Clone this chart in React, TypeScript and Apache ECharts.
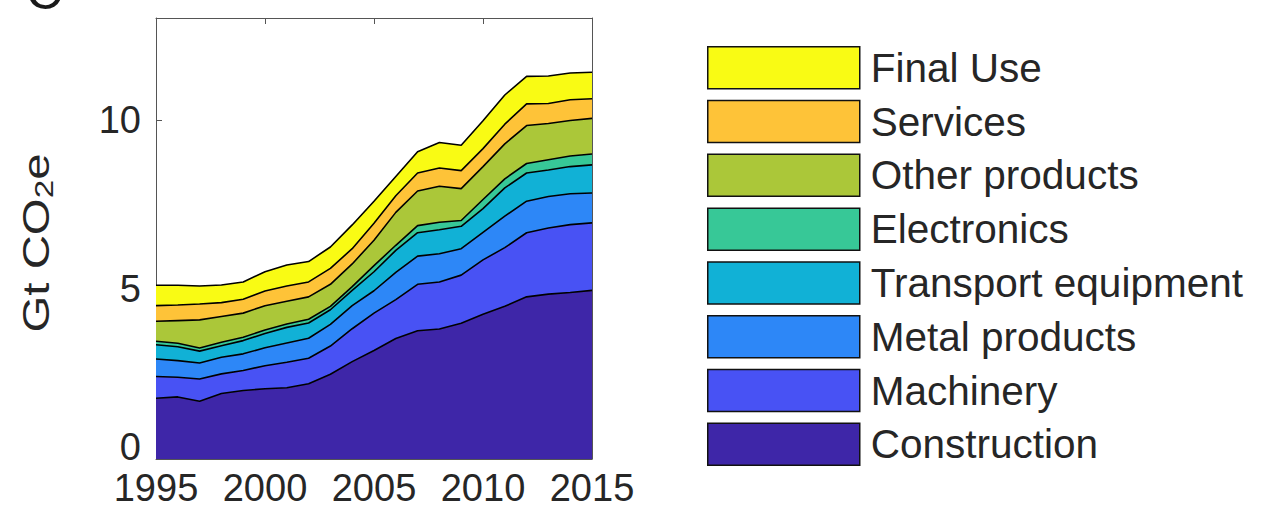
import React, { useEffect, useRef } from "react";
import * as echarts from "echarts";

const years = ["1995", "1996", "1997", "1998", "1999", "2000", "2001", "2002", "2003", "2004", "2005", "2006", "2007", "2008", "2009", "2010", "2011", "2012", "2013", "2014", "2015"];

const construction = [1.79, 1.83, 1.70, 1.93, 2.02, 2.07, 2.10, 2.22, 2.50, 2.87, 3.20, 3.55, 3.78, 3.83, 4.00, 4.27, 4.50, 4.78, 4.86, 4.91, 4.97];
const machinery = [0.64, 0.58, 0.66, 0.58, 0.59, 0.68, 0.75, 0.75, 0.83, 0.97, 1.10, 1.15, 1.37, 1.39, 1.42, 1.60, 1.73, 1.89, 1.95, 2.00, 1.99];
const metalProducts = [0.52, 0.49, 0.47, 0.49, 0.49, 0.53, 0.57, 0.59, 0.64, 0.68, 0.66, 0.80, 0.83, 0.83, 0.78, 0.81, 0.93, 0.93, 0.93, 0.91, 0.88];
const transportEquipment = [0.42, 0.41, 0.35, 0.34, 0.39, 0.42, 0.46, 0.45, 0.43, 0.45, 0.56, 0.65, 0.69, 0.71, 0.66, 0.70, 0.83, 0.83, 0.78, 0.80, 0.83];
const electronics = [0.10, 0.10, 0.09, 0.10, 0.10, 0.10, 0.10, 0.11, 0.10, 0.11, 0.18, 0.15, 0.21, 0.22, 0.17, 0.27, 0.27, 0.28, 0.30, 0.31, 0.32];
const otherProducts = [0.59, 0.67, 0.83, 0.76, 0.71, 0.72, 0.67, 0.66, 0.65, 0.67, 0.75, 0.97, 1.02, 1.06, 0.94, 0.97, 1.03, 1.12, 1.07, 1.05, 1.05];
const services = [0.46, 0.46, 0.47, 0.41, 0.41, 0.43, 0.45, 0.44, 0.47, 0.45, 0.50, 0.49, 0.53, 0.54, 0.53, 0.53, 0.58, 0.64, 0.59, 0.61, 0.58];
const finalUse = [0.60, 0.58, 0.53, 0.52, 0.51, 0.57, 0.62, 0.60, 0.63, 0.70, 0.65, 0.57, 0.63, 0.75, 0.75, 0.82, 0.86, 0.81, 0.81, 0.79, 0.78];

const seriesNames = ["Construction", "Machinery", "Metal products", "Transport equipment", "Electronics", "Other products", "Services", "Final Use"];
const seriesValues = [construction, machinery, metalProducts, transportEquipment, electronics, otherProducts, services, finalUse];
const seriesColors = ["#3E26A8", "#4852F4", "#2D87F7", "#11B1D6", "#37C897", "#ABC739", "#FEC338", "#F9FB14"];

const yTicks = { min: 0, max: 13, interval: 5 };
const yTitle = "Gt CO{sub|2}e";
const panelLabel = "C";

const FONT = "Arial, 'Liberation Sans', Helvetica, sans-serif";
const TXT = "#262626";
const AX = "#555";

export default function App() {
  const ref = useRef<HTMLDivElement>(null);
  useEffect(() => {
    if (!ref.current) return;
    const chart = echarts.init(ref.current, undefined, { renderer: "svg" });
    const n = seriesNames.length;
    const series = seriesNames.map((name, i) => ({
      name,
      type: "line",
      stack: "total",
      data: seriesValues[i],
      showSymbol: false,
      symbol: "none",
      z: 2 + (n - i),
      color: seriesColors[i],
      lineStyle: { color: "#000", width: 1.6 },
      areaStyle: { color: seriesColors[i], opacity: 1 },
    }));
    const legendData = seriesNames
      .map((name, i) => ({ name, itemStyle: { color: seriesColors[i], borderColor: "#111", borderWidth: 1.5 } }))
      .reverse();
    const catAxisBase = {
      type: "category",
      data: years,
      boundaryGap: false,
      axisLine: { show: true, onZero: false, lineStyle: { color: AX, width: 1 } },
      axisTick: { show: true, inside: true, length: 6, interval: 4, lineStyle: { color: AX } },
      splitLine: { show: false },
    };
    chart.setOption({
      animation: false,
      backgroundColor: "#fff",
      textStyle: { fontFamily: FONT },
      grid: { left: 156, top: 18, width: 436, height: 441, containLabel: false },
      legend: {
        orient: "vertical",
        left: 702,
        top: 41,
        itemWidth: 152,
        itemHeight: 42,
        itemGap: 10.3,
        icon: "rect",
        data: legendData,
        textStyle: { fontSize: 40.5, lineHeight: 42, color: TXT, fontFamily: FONT, padding: [0, 0, 0, 6] },
        selectedMode: false,
      },
      xAxis: [
        {
          ...catAxisBase,
          axisLabel: { fontSize: 38, lineHeight: 36, color: TXT, margin: 11, fontFamily: FONT, interval: 4 },
        },
        {
          ...catAxisBase,
          position: "top",
          axisLabel: { show: false },
        },
      ],
      yAxis: [
        {
          type: "value",
          ...yTicks,
          axisLine: { show: true, onZero: false, lineStyle: { color: AX, width: 1 } },
          axisTick: { show: true, inside: true, length: 6, lineStyle: { color: AX } },
          axisLabel: { fontSize: 38, color: TXT, margin: 15, fontFamily: FONT, showMaxLabel: false, showMinLabel: false },
          splitLine: { show: false },
        },
        {
          type: "value",
          position: "right",
          ...yTicks,
          axisLine: { show: true, onZero: false, lineStyle: { color: AX, width: 1 } },
          axisTick: { show: true, inside: true, length: 6, lineStyle: { color: AX } },
          axisLabel: { show: false },
          splitLine: { show: false },
        },
        {
          type: "value",
          position: "left",
          ...yTicks,
          axisLine: { show: false },
          axisTick: { show: false },
          axisLabel: {
            fontSize: 38,
            lineHeight: 24,
            verticalAlign: "bottom",
            color: TXT,
            margin: 15,
            fontFamily: FONT,
            showMaxLabel: false,
            formatter: (v: number) => (v === 0 ? "0" : ""),
          },
          splitLine: { show: false },
        },
      ],
      graphic: [
        {
          type: "text",
          x: 36,
          y: 243,
          rotation: Math.PI / 2,
          scaleX: 1.28,
          style: {
            text: yTitle,
            fontSize: 37,
            fontFamily: FONT,
            fill: TXT,
            align: "center",
            verticalAlign: "middle",
            rich: { sub: { fontSize: 26, fill: TXT, fontFamily: FONT, padding: [16, 0, 0, 0] } },
          },
        },
        {
          type: "text",
          left: 26,
          top: -33,
          style: { text: panelLabel, fontSize: 50, fontFamily: FONT, fill: "#1a1a1a" },
        },
      ],
      series,
    });
    return () => chart.dispose();
  }, []);
  return (
    <div
      ref={ref}
      style={{ position: "fixed", left: 0, top: 0, width: 1268, height: 527, background: "#fff" }}
    />
  );
}
